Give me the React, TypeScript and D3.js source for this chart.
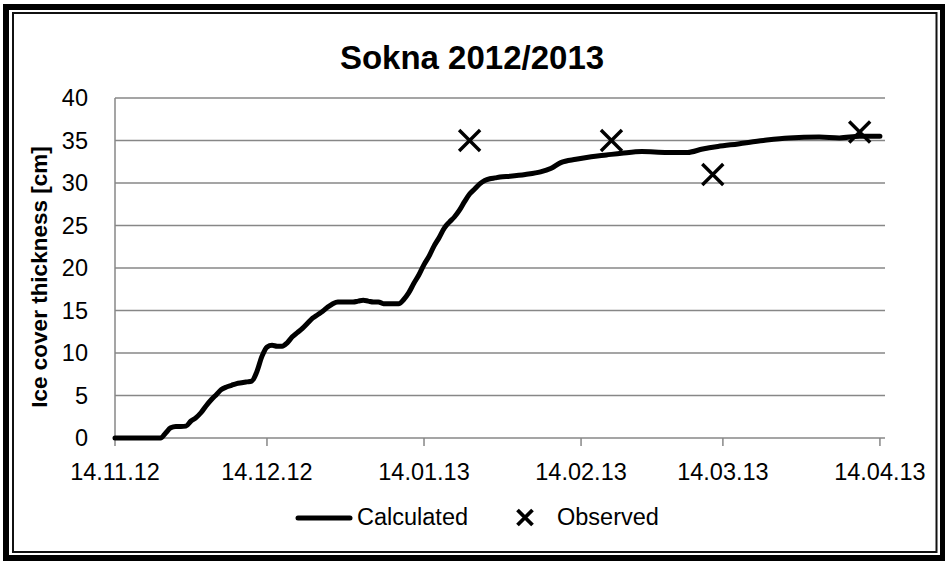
import React from "react";
import * as d3 from "d3";

const title = "Sokna 2012/2013";
const yLabel = "Ice cover thickness [cm]";
const seriesNames = ["Calculated", "Observed"];

const calcDates = [
  "2012-11-14", "2012-11-23", "2012-11-24", "2012-11-25", "2012-11-26", "2012-11-27",
  "2012-11-28", "2012-11-29", "2012-11-30", "2012-12-01", "2012-12-02", "2012-12-03",
  "2012-12-04", "2012-12-05", "2012-12-06", "2012-12-07", "2012-12-08", "2012-12-09",
  "2012-12-10", "2012-12-11", "2012-12-12", "2012-12-13", "2012-12-14", "2012-12-15",
  "2012-12-16", "2012-12-17", "2012-12-18", "2012-12-19", "2012-12-20", "2012-12-21",
  "2012-12-22", "2012-12-23", "2012-12-24", "2012-12-25", "2012-12-26", "2012-12-27",
  "2012-12-28", "2012-12-29", "2012-12-30", "2012-12-31", "2013-01-01", "2013-01-02",
  "2013-01-03", "2013-01-04", "2013-01-05", "2013-01-06", "2013-01-07", "2013-01-08",
  "2013-01-09", "2013-01-10", "2013-01-11", "2013-01-12", "2013-01-13", "2013-01-14",
  "2013-01-15", "2013-01-16", "2013-01-17", "2013-01-18", "2013-01-19", "2013-01-20",
  "2013-01-21", "2013-01-22", "2013-01-23", "2013-01-24", "2013-01-25", "2013-01-26",
  "2013-01-27", "2013-01-28", "2013-01-29", "2013-01-31", "2013-02-03", "2013-02-06",
  "2013-02-08", "2013-02-10", "2013-02-13", "2013-02-16", "2013-02-19", "2013-02-22",
  "2013-02-26", "2013-03-03", "2013-03-07", "2013-03-10", "2013-03-13", "2013-03-17",
  "2013-03-22", "2013-03-27", "2013-04-02", "2013-04-06", "2013-04-10", "2013-04-14",
];
const calcValues = [
  0, 0, 0.6, 1.2, 1.35, 1.35,
  1.4, 2.0, 2.4, 3.0, 3.8, 4.5,
  5.1, 5.7, 6.0, 6.2, 6.4, 6.5,
  6.6, 6.7, 7.8, 9.6, 10.7, 10.9,
  10.8, 10.8, 11.2, 11.9, 12.4, 12.9,
  13.5, 14.1, 14.5, 14.9, 15.4, 15.8,
  16.0, 16.0, 16.0, 16.0, 16.1, 16.2,
  16.1, 16.0, 16.0, 15.8, 15.8, 15.8,
  15.8, 16.3, 17.1, 18.2, 19.2, 20.4,
  21.4, 22.6, 23.6, 24.7, 25.4, 26.0,
  26.8, 27.8, 28.7, 29.3, 29.9, 30.3,
  30.5, 30.6, 30.7, 30.8, 31.0, 31.3,
  31.7, 32.4, 32.8, 33.1, 33.3, 33.5,
  33.7, 33.6, 33.6, 34.0, 34.3, 34.6,
  35.0, 35.3, 35.4, 35.3, 35.5, 35.5,
];

const obsDates = ["2013-01-23", "2013-02-20", "2013-03-12", "2013-04-10"];
const obsValues = [35, 35, 31, 36];

const xTickDates = ["2012-11-14", "2012-12-14", "2013-01-14", "2013-02-14", "2013-03-14", "2013-04-14"];
const xDomain = ["2012-11-14", "2013-04-15"];
const yTicks = [0, 5, 10, 15, 20, 25, 30, 35, 40];

const W = 945;
const H = 561;
const FONT = "'Liberation Sans', Arial, sans-serif";

export default function App() {
  const parse = d3.utcParse("%Y-%m-%d");
  const fmt = d3.utcFormat("%d.%m.%y");
  const x = d3.scaleUtc().domain(xDomain.map((d) => parse(d) as Date)).range([115, 885]);
  const y = d3.scaleLinear().domain([0, 40]).range([438, 98]);

  const calc = calcDates.map((d, i) => ({ date: parse(d) as Date, v: calcValues[i] }));
  const obs = obsDates.map((d, i) => ({ date: parse(d) as Date, v: obsValues[i] }));

  const line = d3
    .line<{ date: Date; v: number }>()
    .x((d) => x(d.date))
    .y((d) => y(d.v))
    .curve(d3.curveMonotoneX);

  const cross = (cx: number, cy: number, r: number) =>
    `M${cx - r},${cy - r}L${cx + r},${cy + r}M${cx - r},${cy + r}L${cx + r},${cy - r}`;

  const grid = "#878787";

  return (
    <svg
      width={W}
      height={H}
      style={{ position: "absolute", left: 0, top: 0, background: "#fff" }}
      fontFamily={FONT}
    >
      <rect x={0} y={0} width={W} height={H} fill="#fff" />
      {/* double border */}
      <rect x={6} y={7} width={937} height={551} fill="none" stroke="#000" strokeWidth={6} />
      <rect x={13} y={13} width={923.5} height={539} fill="none" stroke="#111" strokeWidth={2} />

      {/* title */}
      <text x={472} y={69} textAnchor="middle" fontSize={33} fontWeight="bold" fill="#000">
        {title}
      </text>

      {/* gridlines */}
      {yTicks.map((t) => (
        <line key={"g" + t} x1={115} x2={885} y1={y(t)} y2={y(t)} stroke={grid} strokeWidth={1.5} />
      ))}
      {/* y axis */}
      <line x1={115} x2={115} y1={y(40)} y2={y(0)} stroke={grid} strokeWidth={1.5} />
      {yTicks.map((t) => (
        <text key={"yl" + t} x={88} y={y(t)} dy="0.36em" textAnchor="end" fontSize={23.5} fill="#000">
          {t}
        </text>
      ))}
      {/* x axis ticks */}
      {xTickDates.map((d) => {
        const xx = x(parse(d) as Date);
        return (
          <g key={"xt" + d}>
            <line x1={xx} x2={xx} y1={438} y2={446} stroke={grid} strokeWidth={1.5} />
            <text x={xx} y={480} textAnchor="middle" fontSize={23.5} fill="#000">
              {fmt(parse(d) as Date)}
            </text>
          </g>
        );
      })}

      {/* y label */}
      <text
        transform={`translate(47,277) rotate(-90)`}
        textAnchor="middle"
        fontSize={22.5}
        fontWeight="bold"
        fill="#000"
      >
        {yLabel}
      </text>

      {/* calculated line */}
      <path
        d={line(calc) || ""}
        fill="none"
        stroke="#000"
        strokeWidth={5}
        strokeLinejoin="round"
        strokeLinecap="round"
      />

      {/* observed */}
      {obs.map((d, i) => (
        <path
          key={"o" + i}
          d={cross(x(d.date), y(d.v), 10.5)}
          stroke="#000"
          strokeWidth={3.4}
          fill="none"
        />
      ))}

      {/* legend */}
      <line x1={298} x2={350} y1={518} y2={518} stroke="#000" strokeWidth={5} strokeLinecap="round" />
      <text x={357} y={525} fontSize={23.5} fill="#000">
        {seriesNames[0]}
      </text>
      <path d={cross(525, 517.5, 7.5)} stroke="#000" strokeWidth={3.8} fill="none" />
      <text x={557} y={525} fontSize={23.5} fill="#000">
        {seriesNames[1]}
      </text>
    </svg>
  );
}
